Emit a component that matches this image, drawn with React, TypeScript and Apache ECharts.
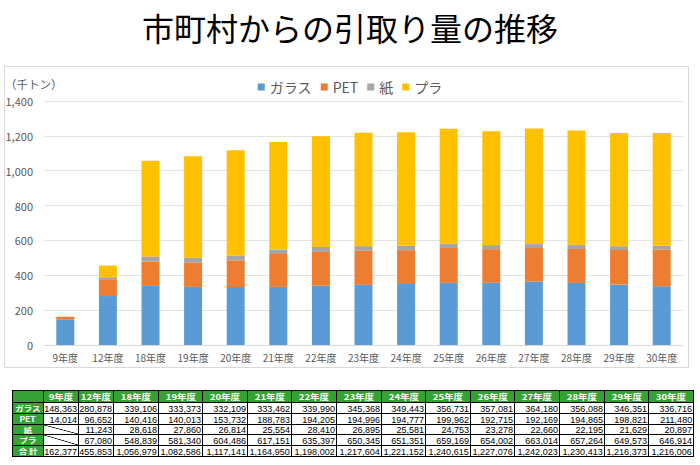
import React, { useEffect, useRef } from "react";
import * as echarts from "echarts";

const categories = ["9年度", "12年度", "18年度", "19年度", "20年度", "21年度", "22年度", "23年度", "24年度", "25年度", "26年度", "27年度", "28年度", "29年度", "30年度"];
const seriesNames = ["ガラス", "PET", "紙", "プラ"];
const glass = [148363, 280878, 339106, 333373, 332109, 333462, 339990, 345368, 349443, 356731, 357081, 364180, 356088, 346351, 336716];
const pet = [14014, 96652, 140416, 140013, 153732, 188783, 194205, 194996, 194777, 199962, 192715, 192169, 194865, 198821, 211480];
const paper = [null, 11243, 28618, 27860, 26814, 25554, 28410, 26895, 25581, 24753, 23278, 22660, 22195, 21629, 20897];
const plastic = [null, 67080, 548839, 581340, 604486, 617151, 635397, 650345, 651351, 659169, 654002, 663014, 657264, 649573, 646914];
const totals = [162377, 455853, 1056979, 1082586, 1117141, 1164950, 1198002, 1217604, 1221152, 1240615, 1227076, 1242023, 1230413, 1216373, 1216006];
const totalLabel = "合 計";
const yTicks = { min: 0, max: 1400, interval: 200 };
const unitLabel = "（千トン）";
const titleText = "市町村からの引取り量の推移";

const colors = ["#5B9BD5", "#ED7D31", "#A5A5A5", "#FFC000"];
const GREEN = "#36A236";

const fmt = (v: number | null) => (v == null ? "" : v.toLocaleString("en-US"));

// table geometry (layout only)
const colX = [12, 43, 78, 113, ...Array.from({ length: 13 }, (_, i) => Math.round(113 + (i + 1) * 44.6))];
const rowY = [390, 402, 413, 424, 434, 445, 456];

function Cell({
  c,
  r,
  head,
  align,
  diag,
  children,
}: {
  c: number;
  r: number;
  head?: boolean;
  align: "center" | "right";
  diag?: boolean;
  children?: React.ReactNode;
}) {
  const left = colX[c];
  const top = rowY[r];
  const width = colX[c + 1] - left + 1;
  const height = rowY[r + 1] - top + 1;
  return (
    <div
      style={{
        position: "absolute",
        left,
        top,
        width,
        height,
        boxSizing: "border-box",
        border: "1px solid #000",
        background: head
          ? GREEN
          : diag
          ? "linear-gradient(to top right, #fff calc(50% - 0.7px), #000 50%, #fff calc(50% + 0.7px))"
          : "#fff",
        color: head ? "#fff" : "#000",
        fontWeight: head ? "bold" : "normal",
        fontFamily: head ? "'Noto Sans CJK JP', sans-serif" : "'Liberation Sans', Arial, sans-serif",
        fontSize: head ? 10 : 10.5,
        whiteSpace: "nowrap",
        display: "flex",
        alignItems: "center",
        justifyContent: align === "right" ? "flex-end" : "center",
        paddingRight: align === "right" ? 1 : 0,
        overflow: "visible",
      }}
    >
      {children}
    </div>
  );
}

function Fit({ children, sx, sy, origin }: { children: React.ReactNode; sx: number; sy: number; origin: string }) {
  return (
    <span
      style={{
        display: "inline-block",
        flex: "none",
        transform: `scale(${sx}, ${sy})`,
        transformOrigin: `${origin} center`,
        lineHeight: 1,
      }}
    >
      {children}
    </span>
  );
}

function Table() {
  const rows: { label: string; values: (number | null)[] }[] = [
    { label: seriesNames[0], values: glass },
    { label: seriesNames[1], values: pet },
    { label: seriesNames[2], values: paper },
    { label: seriesNames[3], values: plastic },
    { label: totalLabel, values: totals },
  ];
  const cells: React.ReactNode[] = [];
  cells.push(<Cell key="h-0" c={0} r={0} head align="center" />);
  categories.forEach((cat, i) =>
    cells.push(
      <Cell key={`h-${i + 1}`} c={i + 1} r={0} head align="center">
        <Fit sx={0.95} sy={0.78} origin="center">
          {cat}
        </Fit>
      </Cell>
    )
  );
  rows.forEach((row, ri) => {
    cells.push(
      <Cell key={`l-${ri}`} c={0} r={ri + 1} head align="center">
        <Fit sx={0.85} sy={0.72} origin="center">
          {row.label}
        </Fit>
      </Cell>
    );
    row.values.forEach((v, ci) =>
      cells.push(
        <Cell key={`v-${ri}-${ci}`} c={ci + 1} r={ri + 1} align="right" diag={v == null}>
          {v == null ? null : (
            <Fit sx={0.86} sy={0.9} origin="right">
              {fmt(v)}
            </Fit>
          )}
        </Cell>
      )
    );
  });
  return <>{cells}</>;
}

export default function App() {
  const ref = useRef<HTMLDivElement>(null);
  useEffect(() => {
    if (!ref.current) return;
    const chart = echarts.init(ref.current, null, { renderer: "svg" });
    const toK = (arr: (number | null)[]) => arr.map((v) => (v == null ? null : v / 1000));
    const data = [glass, pet, paper, plastic];
    chart.setOption({
      animation: false,
      backgroundColor: "#fff",
      title: {
        text: titleText,
        left: "center",
        top: 6,
        textStyle: {
          fontSize: 32,
          fontWeight: "normal",
          color: "#000",
          fontFamily: "'Noto Sans CJK JP', sans-serif",
        },
      },
      graphic: [
        {
          type: "rect",
          shape: { x: 4.5, y: 66.5, width: 684, height: 301 },
          style: { fill: "none", stroke: "#d9d9d9", lineWidth: 1 },
          silent: true,
        },
        {
          type: "text",
          left: 5,
          top: 78,
          style: {
            text: unitLabel,
            fontSize: 11.5,
            fill: "#595959",
            fontFamily: "'Noto Sans CJK JP', sans-serif",
          },
        },
      ],
      legend: {
        top: 75,
        left: "center",
        icon: "rect",
        itemWidth: 7,
        itemHeight: 7,
        itemGap: 9,
        textStyle: {
          fontSize: 14,
          color: "#595959",
          fontFamily: "'Noto Sans CJK JP', sans-serif",
        },
        data: seriesNames,
      },
      grid: { left: 44, right: 17, top: 101, bottom: 120 },
      xAxis: {
        type: "category",
        data: categories,
        axisLine: { lineStyle: { color: "#d9d9d9" } },
        axisTick: { show: false },
        axisLabel: {
          interval: 0,
          fontSize: 10,
          color: "#595959",
          margin: 7,
          fontFamily: "'Noto Sans CJK JP', sans-serif",
        },
      },
      yAxis: {
        type: "value",
        min: yTicks.min,
        max: yTicks.max,
        interval: yTicks.interval,
        axisLine: { show: false },
        axisTick: { show: false },
        splitLine: { lineStyle: { color: "#e3e3e3" } },
        axisLabel: {
          fontSize: 11,
          color: "#595959",
          margin: 11,
          fontFamily: "'Noto Sans CJK JP', sans-serif",
          formatter: (v: number) => v.toLocaleString("en-US"),
        },
      },
      series: seriesNames.map((name, i) => ({
        name,
        type: "bar",
        stack: "total",
        barWidth: 18,
        itemStyle: { color: colors[i] },
        data: toK(data[i]),
      })),
    });
    return () => chart.dispose();
  }, []);
  return (
    <div style={{ position: "fixed", left: 0, top: 0, width: 700, height: 465, background: "#fff" }}>
      <div ref={ref} style={{ position: "absolute", left: 0, top: 0, width: 700, height: 465 }} />
      <Table />
    </div>
  );
}
